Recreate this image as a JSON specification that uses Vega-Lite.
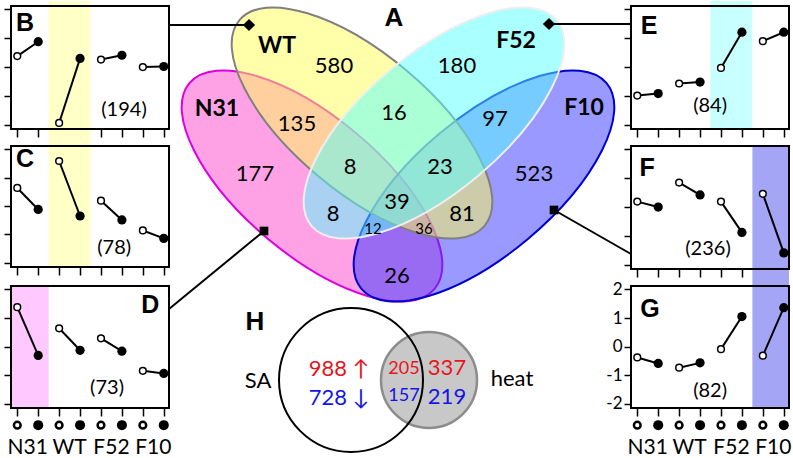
{
"$schema":"https://vega.github.io/schema/vega-lite/v6.json",
"background":"white",
"padding":{"left":2,"top":0,"right":0,"bottom":0},
"config":{"view":{"stroke":"black","strokeWidth":2},"axis":{"domain":false,"grid":false,"tickColor":"black","tickWidth":1.5,"zindex":1},"text":{"font":"Lato","color":"black"}},
"datasets":{
"pB":[{"g":"N31","t":"o","pos":1,"v":0.38},{"g":"N31","t":"f","pos":2,"v":0.88},{"g":"WT","t":"o","pos":3,"v":-1.94},{"g":"WT","t":"f","pos":4,"v":0.30},{"g":"F52","t":"o","pos":5,"v":0.26},{"g":"F52","t":"f","pos":6,"v":0.41},{"g":"F10","t":"o","pos":7,"v":0.0},{"g":"F10","t":"f","pos":8,"v":0.02}],
"pC":[{"g":"N31","t":"o","pos":1,"v":0.64},{"g":"N31","t":"f","pos":2,"v":-0.12},{"g":"WT","t":"o","pos":3,"v":1.59},{"g":"WT","t":"f","pos":4,"v":-0.35},{"g":"F52","t":"o","pos":5,"v":0.19},{"g":"F52","t":"f","pos":6,"v":-0.49},{"g":"F10","t":"o","pos":7,"v":-0.86},{"g":"F10","t":"f","pos":8,"v":-1.14}],
"pD":[{"g":"N31","t":"o","pos":1,"v":1.38},{"g":"N31","t":"f","pos":2,"v":-0.31},{"g":"WT","t":"o","pos":3,"v":0.64},{"g":"WT","t":"f","pos":4,"v":-0.13},{"g":"F52","t":"o","pos":5,"v":0.29},{"g":"F52","t":"f","pos":6,"v":-0.16},{"g":"F10","t":"o","pos":7,"v":-0.85},{"g":"F10","t":"f","pos":8,"v":-0.94}],
"pE":[{"g":"N31","t":"o","pos":1,"v":-0.99},{"g":"N31","t":"f","pos":2,"v":-0.92},{"g":"WT","t":"o","pos":3,"v":-0.57},{"g":"WT","t":"f","pos":4,"v":-0.52},{"g":"F52","t":"o","pos":5,"v":-0.03},{"g":"F52","t":"f","pos":6,"v":1.21},{"g":"F10","t":"o","pos":7,"v":0.90},{"g":"F10","t":"f","pos":8,"v":1.21}],
"pF":[{"g":"N31","t":"o","pos":1,"v":0.19},{"g":"N31","t":"f","pos":2,"v":0.0},{"g":"WT","t":"o","pos":3,"v":0.85},{"g":"WT","t":"f","pos":4,"v":0.42},{"g":"F52","t":"o","pos":5,"v":0.19},{"g":"F52","t":"f","pos":6,"v":-0.88},{"g":"F10","t":"o","pos":7,"v":0.46},{"g":"F10","t":"f","pos":8,"v":-1.59}],
"pG":[{"g":"N31","t":"o","pos":1,"v":-0.38},{"g":"N31","t":"f","pos":2,"v":-0.59},{"g":"WT","t":"o","pos":3,"v":-0.74},{"g":"WT","t":"f","pos":4,"v":-0.57},{"g":"F52","t":"o","pos":5,"v":-0.09},{"g":"F52","t":"f","pos":6,"v":1.05},{"g":"F10","t":"o","pos":7,"v":-0.32},{"g":"F10","t":"f","pos":8,"v":1.36}],
"axpts":[{"pos":1,"t":"o"},{"pos":2,"t":"f"},{"pos":3,"t":"o"},{"pos":4,"t":"f"},{"pos":5,"t":"o"},{"pos":6,"t":"f"},{"pos":7,"t":"o"},{"pos":8,"t":"f"}],
"axlab":[{"g":"N31","pos":1.5},{"g":"WT","pos":3.5},{"g":"F52","pos":5.5},{"g":"F10","pos":7.5}],
"venn":[{"set":"N31","x":-8.6,"y":0.5},{"set":"F10","x":8.6,"y":0.5},{"set":"WT","x":-3.6,"y":6.8},{"set":"F52","x":3.6,"y":6.8}],
"links":[{"x":-22.9,"y":16.6,"x2":-14.9,"y2":16.6},{"x":15.1,"y":16.7,"x2":23.3,"y2":16.7},{"x":-22.9,"y":-11.8,"x2":-13.4,"y2":-4.0},{"x":15.6,"y":-1.9,"x2":23.3,"y2":-6.3}],
"markers":[{"m":"d","x":-14.9,"y":16.6},{"m":"d","x":15.1,"y":16.7},{"m":"s","x":-13.4,"y":-4.0},{"m":"s","x":15.6,"y":-1.9}],
"vlab":[{"t":"580","x":-6.4,"y":12.5,"k":"num"},{"t":"180","x":5.9,"y":12.5,"k":"num"},{"t":"135","x":-10.1,"y":6.7,"k":"num"},{"t":"16","x":-0.4,"y":7.8,"k":"num"},{"t":"97","x":9.7,"y":7.2,"k":"num"},{"t":"177","x":-14.3,"y":1.7,"k":"num"},{"t":"8","x":-4.8,"y":2.4,"k":"num"},{"t":"23","x":4.2,"y":2.4,"k":"num"},{"t":"523","x":13.6,"y":1.7,"k":"num"},{"t":"39","x":-0.1,"y":-1.1,"k":"num"},{"t":"8","x":-6.5,"y":-2.3,"k":"num"},{"t":"81","x":6.4,"y":-2.3,"k":"num"},{"t":"26","x":-0.1,"y":-8.5,"k":"num"},{"t":"12","x":-2.5,"y":-3.8,"k":"small"},{"t":"36","x":2.6,"y":-3.8,"k":"small"},{"t":"WT","x":-12.1,"y":14.5,"k":"set"},{"t":"F52","x":11.8,"y":15.0,"k":"set"},{"t":"N31","x":-18.1,"y":8.2,"k":"set"},{"t":"F10","x":18.6,"y":8.3,"k":"set"},{"t":"A","x":-0.4,"y":17.3,"k":"letter"},{"t":"H","x":-14.3,"y":-13.1,"k":"letter"},{"t":"SA","x":-14.0,"y":-19.0,"k":"num"},{"t":"heat","x":11.4,"y":-18.8,"k":"num"},{"t":"988 ↑","x":-5.9,"y":-17.8,"k":"up"},{"t":"337","x":4.9,"y":-17.7,"k":"up"},{"t":"205","x":0.6,"y":-17.8,"k":"upS"},{"t":"728 ↓","x":-5.9,"y":-20.7,"k":"down"},{"t":"219","x":4.9,"y":-20.6,"k":"down"},{"t":"157","x":0.6,"y":-20.5,"k":"downS"}],
"hv":[{"c":"SA","x":-4.7,"y":-18.9},{"c":"heat","x":3.1,"y":-18.9}]
},
"columns":3,
"spacing":{"row":17,"column":0},
"bounds":"flush",
"concat":[
{"width":158,"height":123,"data":{"name":"pB"},"layer":[
 {"data":{"values":[{}]},"mark":{"type":"rect","color":"#ffffc8"},"encoding":{"x":{"datum":2.5,"type":"quantitative","scale":{"domain":[0.7,8.25],"nice":false,"zero":false},"axis":{"values":[1,2,3,4,5,6,7,8],"labels":false,"tickSize":8,"title":null}},"x2":{"datum":4.5},"y":{"datum":-2.45,"type":"quantitative","scale":{"domain":[-2.15,2.12],"nice":false,"zero":false},"axis":{"values":[-2,-1,0,1,2],"labels":false,"tickSize":7,"title":null}},"y2":{"datum":2.29}}},
 {"mark":{"type":"line","color":"black","strokeWidth":2},"encoding":{"x":{"field":"pos","type":"quantitative","scale":{"domain":[0.7,8.25],"nice":false,"zero":false},"axis":{"values":[1,2,3,4,5,6,7,8],"labels":false,"tickSize":8,"title":null}},"y":{"field":"v","type":"quantitative","scale":{"domain":[-2.15,2.12],"nice":false,"zero":false},"axis":{"values":[-2,-1,0,1,2],"labels":false,"tickSize":7,"title":null}},"detail":{"field":"g"}}},
 {"transform":[{"filter":"datum.t=='o'"}],"mark":{"type":"point","filled":true,"fill":"white","stroke":"black","strokeWidth":1.5,"size":45,"opacity":1},"encoding":{"x":{"field":"pos","type":"quantitative","scale":{"domain":[0.7,8.25],"nice":false,"zero":false},"axis":{"values":[1,2,3,4,5,6,7,8],"labels":false,"tickSize":8,"title":null}},"y":{"field":"v","type":"quantitative","scale":{"domain":[-2.15,2.12],"nice":false,"zero":false},"axis":{"values":[-2,-1,0,1,2],"labels":false,"tickSize":7,"title":null}}}},
 {"transform":[{"filter":"datum.t=='f'"}],"mark":{"type":"point","filled":true,"fill":"black","size":85,"opacity":1},"encoding":{"x":{"field":"pos","type":"quantitative","scale":{"domain":[0.7,8.25],"nice":false,"zero":false},"axis":{"values":[1,2,3,4,5,6,7,8],"labels":false,"tickSize":8,"title":null}},"y":{"field":"v","type":"quantitative","scale":{"domain":[-2.15,2.12],"nice":false,"zero":false},"axis":{"values":[-2,-1,0,1,2],"labels":false,"tickSize":7,"title":null}}}},
 {"data":{"values":[{"s":"B"}]},"mark":{"type":"text","font":"Liberation Sans","fontWeight":"bold","fontSize":25,"align":"center","baseline":"middle"},"encoding":{"x":{"datum":1.37,"type":"quantitative","scale":{"domain":[0.7,8.25],"nice":false,"zero":false},"axis":{"values":[1,2,3,4,5,6,7,8],"labels":false,"tickSize":8,"title":null}},"y":{"datum":1.53,"type":"quantitative","scale":{"domain":[-2.15,2.12],"nice":false,"zero":false},"axis":{"values":[-2,-1,0,1,2],"labels":false,"tickSize":7,"title":null}},"text":{"field":"s"}}},
 {"data":{"values":[{"s":"(194)"}]},"mark":{"type":"text","fontSize":20,"align":"center","baseline":"middle"},"encoding":{"x":{"datum":6.1,"type":"quantitative","scale":{"domain":[0.7,8.25],"nice":false,"zero":false},"axis":{"values":[1,2,3,4,5,6,7,8],"labels":false,"tickSize":8,"title":null}},"y":{"datum":-1.49,"type":"quantitative","scale":{"domain":[-2.15,2.12],"nice":false,"zero":false},"axis":{"values":[-2,-1,0,1,2],"labels":false,"tickSize":7,"title":null}},"text":{"field":"s"}}},
 {"data":{"values":[{}]},"mark":{"type":"rect","fillOpacity":0,"stroke":"black","strokeWidth":2},"encoding":{"x":{"datum":0.7,"type":"quantitative","scale":{"domain":[0.7,8.25],"nice":false,"zero":false},"axis":{"values":[1,2,3,4,5,6,7,8],"labels":false,"tickSize":8,"title":null}},"x2":{"datum":8.25},"y":{"datum":-2.15,"type":"quantitative","scale":{"domain":[-2.15,2.12],"nice":false,"zero":false},"axis":{"values":[-2,-1,0,1,2],"labels":false,"tickSize":7,"title":null}},"y2":{"datum":2.12}}}
]},
{"width":462,"height":123,"view":{"stroke":null},
 "encoding":{"x":{"field":"x","type":"quantitative","scale":{"domain":[-22.9,23.3],"nice":false,"zero":false},"axis":null},
             "y":{"field":"y","type":"quantitative","scale":{"domain":[6.2,18.5],"nice":false,"zero":false},"axis":null}},
 "layer":[
  {"data":{"name":"venn"},"transform":[{"filter":"datum.set=='N31'"}],"mark":{"type":"point","shape":"M-1,0A1,0.43,0,1,1,1,0A1,0.43,0,1,1,-1,0Z","size":102400,"angle":40,"filled":true,"fill":"#ff44cc","fillOpacity":0.5,"stroke":"#dd00dd","strokeWidth":2,"opacity":1}},
  {"data":{"name":"venn"},"transform":[{"filter":"datum.set=='F10'"}],"mark":{"type":"point","shape":"M-1,0A1,0.43,0,1,1,1,0A1,0.43,0,1,1,-1,0Z","size":102400,"angle":-40,"filled":true,"fill":"#3333ff","fillOpacity":0.5,"stroke":"#0000cc","strokeWidth":2,"opacity":1}},
  {"data":{"name":"venn"},"transform":[{"filter":"datum.set=='WT'"}],"mark":{"type":"point","shape":"M-1,0A1,0.43,0,1,1,1,0A1,0.43,0,1,1,-1,0Z","size":102400,"angle":40,"filled":true,"fill":"#ffff55","fillOpacity":0.5,"stroke":"#808080","strokeWidth":2,"opacity":1}},
  {"data":{"name":"venn"},"transform":[{"filter":"datum.set=='F52'"}],"mark":{"type":"point","shape":"M-1,0A1,0.43,0,1,1,1,0A1,0.43,0,1,1,-1,0Z","size":102400,"angle":-40,"filled":true,"fill":"#55ffff","fillOpacity":0.5,"stroke":"#eeeeee","strokeWidth":2,"opacity":1}},
  {"data":{"name":"links"},"mark":{"type":"rule","color":"black","strokeWidth":2},"encoding":{"x2":{"field":"x2"},"y2":{"field":"y2"}}},
  {"data":{"name":"markers"},"transform":[{"filter":"datum.m=='d'"}],"mark":{"type":"point","shape":"diamond","filled":true,"color":"black","size":150,"opacity":1}},
  {"data":{"name":"markers"},"transform":[{"filter":"datum.m=='s'"}],"mark":{"type":"point","shape":"square","filled":true,"color":"black","size":75,"opacity":1}},
  {"data":{"name":"hv"},"transform":[{"filter":"datum.c=='heat'"}],"mark":{"type":"point","shape":"circle","filled":true,"fill":"#c8c8c8","stroke":"#8c8c8c","strokeWidth":2.5,"size":9216,"opacity":1}},
  {"data":{"name":"hv"},"transform":[{"filter":"datum.c=='SA'"}],"mark":{"type":"point","shape":"circle","filled":false,"stroke":"black","strokeWidth":2,"size":20736,"opacity":1}},
  {"data":{"name":"vlab"},"transform":[{"filter":"datum.k=='num'"}],"mark":{"type":"text","fontSize":22,"align":"center","baseline":"middle"},"encoding":{"text":{"field":"t"}}},
  {"data":{"name":"vlab"},"transform":[{"filter":"datum.k=='small'"}],"mark":{"type":"text","fontSize":15,"align":"center","baseline":"middle"},"encoding":{"text":{"field":"t"}}},
  {"data":{"name":"vlab"},"transform":[{"filter":"datum.k=='set'"}],"mark":{"type":"text","fontSize":23,"fontWeight":"bold","align":"center","baseline":"middle"},"encoding":{"text":{"field":"t"}}},
  {"data":{"name":"vlab"},"transform":[{"filter":"datum.k=='letter'"}],"mark":{"type":"text","font":"Liberation Sans","fontSize":26,"fontWeight":"bold","align":"center","baseline":"middle"},"encoding":{"text":{"field":"t"}}},
  {"data":{"name":"vlab"},"transform":[{"filter":"datum.k=='up'"}],"mark":{"type":"text","font":"Lato, DejaVu Sans","fontSize":22,"color":"#e8141c","align":"center","baseline":"middle"},"encoding":{"text":{"field":"t"}}},
  {"data":{"name":"vlab"},"transform":[{"filter":"datum.k=='upS'"}],"mark":{"type":"text","fontSize":18,"color":"#e8141c","align":"center","baseline":"middle"},"encoding":{"text":{"field":"t"}}},
  {"data":{"name":"vlab"},"transform":[{"filter":"datum.k=='down'"}],"mark":{"type":"text","font":"Lato, DejaVu Sans","fontSize":22,"color":"#1414e6","align":"center","baseline":"middle"},"encoding":{"text":{"field":"t"}}},
  {"data":{"name":"vlab"},"transform":[{"filter":"datum.k=='downS'"}],"mark":{"type":"text","fontSize":18,"color":"#1414e6","align":"center","baseline":"middle"},"encoding":{"text":{"field":"t"}}}
 ]},
{"width":158,"height":123,"data":{"name":"pE"},"layer":[
 {"data":{"values":[{}]},"mark":{"type":"rect","color":"#c8ffff"},"encoding":{"x":{"datum":4.5,"type":"quantitative","scale":{"domain":[0.7,8.25],"nice":false,"zero":false},"axis":{"values":[1,2,3,4,5,6,7,8],"labels":false,"tickSize":8,"title":null}},"x2":{"datum":6.5},"y":{"datum":-2.15,"type":"quantitative","scale":{"domain":[-2.15,2.12],"nice":false,"zero":false},"axis":{"values":[-2,-1,0,1,2],"labels":false,"tickSize":7,"title":null}},"y2":{"datum":2.29}}},
 {"mark":{"type":"line","color":"black","strokeWidth":2},"encoding":{"x":{"field":"pos","type":"quantitative","scale":{"domain":[0.7,8.25],"nice":false,"zero":false},"axis":{"values":[1,2,3,4,5,6,7,8],"labels":false,"tickSize":8,"title":null}},"y":{"field":"v","type":"quantitative","scale":{"domain":[-2.15,2.12],"nice":false,"zero":false},"axis":{"values":[-2,-1,0,1,2],"labels":false,"tickSize":7,"title":null}},"detail":{"field":"g"}}},
 {"transform":[{"filter":"datum.t=='o'"}],"mark":{"type":"point","filled":true,"fill":"white","stroke":"black","strokeWidth":1.5,"size":45,"opacity":1},"encoding":{"x":{"field":"pos","type":"quantitative","scale":{"domain":[0.7,8.25],"nice":false,"zero":false},"axis":{"values":[1,2,3,4,5,6,7,8],"labels":false,"tickSize":8,"title":null}},"y":{"field":"v","type":"quantitative","scale":{"domain":[-2.15,2.12],"nice":false,"zero":false},"axis":{"values":[-2,-1,0,1,2],"labels":false,"tickSize":7,"title":null}}}},
 {"transform":[{"filter":"datum.t=='f'"}],"mark":{"type":"point","filled":true,"fill":"black","size":85,"opacity":1},"encoding":{"x":{"field":"pos","type":"quantitative","scale":{"domain":[0.7,8.25],"nice":false,"zero":false},"axis":{"values":[1,2,3,4,5,6,7,8],"labels":false,"tickSize":8,"title":null}},"y":{"field":"v","type":"quantitative","scale":{"domain":[-2.15,2.12],"nice":false,"zero":false},"axis":{"values":[-2,-1,0,1,2],"labels":false,"tickSize":7,"title":null}}}},
 {"data":{"values":[{"s":"E"}]},"mark":{"type":"text","font":"Liberation Sans","fontWeight":"bold","fontSize":25,"align":"center","baseline":"middle"},"encoding":{"x":{"datum":1.56,"type":"quantitative","scale":{"domain":[0.7,8.25],"nice":false,"zero":false},"axis":{"values":[1,2,3,4,5,6,7,8],"labels":false,"tickSize":8,"title":null}},"y":{"datum":1.43,"type":"quantitative","scale":{"domain":[-2.15,2.12],"nice":false,"zero":false},"axis":{"values":[-2,-1,0,1,2],"labels":false,"tickSize":7,"title":null}},"text":{"field":"s"}}},
 {"data":{"values":[{"s":"(84)"}]},"mark":{"type":"text","fontSize":20,"align":"center","baseline":"middle"},"encoding":{"x":{"datum":4.48,"type":"quantitative","scale":{"domain":[0.7,8.25],"nice":false,"zero":false},"axis":{"values":[1,2,3,4,5,6,7,8],"labels":false,"tickSize":8,"title":null}},"y":{"datum":-1.35,"type":"quantitative","scale":{"domain":[-2.15,2.12],"nice":false,"zero":false},"axis":{"values":[-2,-1,0,1,2],"labels":false,"tickSize":7,"title":null}},"text":{"field":"s"}}},
 {"data":{"values":[{}]},"mark":{"type":"rect","fillOpacity":0,"stroke":"black","strokeWidth":2},"encoding":{"x":{"datum":0.7,"type":"quantitative","scale":{"domain":[0.7,8.25],"nice":false,"zero":false},"axis":{"values":[1,2,3,4,5,6,7,8],"labels":false,"tickSize":8,"title":null}},"x2":{"datum":8.25},"y":{"datum":-2.15,"type":"quantitative","scale":{"domain":[-2.15,2.12],"nice":false,"zero":false},"axis":{"values":[-2,-1,0,1,2],"labels":false,"tickSize":7,"title":null}},"y2":{"datum":2.12}}}
]},
{"width":158,"height":121,"data":{"name":"pC"},"layer":[
 {"data":{"values":[{}]},"mark":{"type":"rect","color":"#ffffc8"},"encoding":{"x":{"datum":2.5,"type":"quantitative","scale":{"domain":[0.7,8.25],"nice":false,"zero":false},"axis":{"values":[1,2,3,4,5,6,7,8],"labels":false,"tickSize":8,"title":null}},"x2":{"datum":4.5},"y":{"datum":-2.15,"type":"quantitative","scale":{"domain":[-2.15,2.12],"nice":false,"zero":false},"axis":{"values":[-2,-1,0,1,2],"labels":false,"tickSize":7,"title":null}},"y2":{"datum":2.42}}},
 {"mark":{"type":"line","color":"black","strokeWidth":2},"encoding":{"x":{"field":"pos","type":"quantitative","scale":{"domain":[0.7,8.25],"nice":false,"zero":false},"axis":{"values":[1,2,3,4,5,6,7,8],"labels":false,"tickSize":8,"title":null}},"y":{"field":"v","type":"quantitative","scale":{"domain":[-2.15,2.12],"nice":false,"zero":false},"axis":{"values":[-2,-1,0,1,2],"labels":false,"tickSize":7,"title":null}},"detail":{"field":"g"}}},
 {"transform":[{"filter":"datum.t=='o'"}],"mark":{"type":"point","filled":true,"fill":"white","stroke":"black","strokeWidth":1.5,"size":45,"opacity":1},"encoding":{"x":{"field":"pos","type":"quantitative","scale":{"domain":[0.7,8.25],"nice":false,"zero":false},"axis":{"values":[1,2,3,4,5,6,7,8],"labels":false,"tickSize":8,"title":null}},"y":{"field":"v","type":"quantitative","scale":{"domain":[-2.15,2.12],"nice":false,"zero":false},"axis":{"values":[-2,-1,0,1,2],"labels":false,"tickSize":7,"title":null}}}},
 {"transform":[{"filter":"datum.t=='f'"}],"mark":{"type":"point","filled":true,"fill":"black","size":85,"opacity":1},"encoding":{"x":{"field":"pos","type":"quantitative","scale":{"domain":[0.7,8.25],"nice":false,"zero":false},"axis":{"values":[1,2,3,4,5,6,7,8],"labels":false,"tickSize":8,"title":null}},"y":{"field":"v","type":"quantitative","scale":{"domain":[-2.15,2.12],"nice":false,"zero":false},"axis":{"values":[-2,-1,0,1,2],"labels":false,"tickSize":7,"title":null}}}},
 {"data":{"values":[{"s":"C"}]},"mark":{"type":"text","font":"Liberation Sans","fontWeight":"bold","fontSize":25,"align":"center","baseline":"middle"},"encoding":{"x":{"datum":1.37,"type":"quantitative","scale":{"domain":[0.7,8.25],"nice":false,"zero":false},"axis":{"values":[1,2,3,4,5,6,7,8],"labels":false,"tickSize":8,"title":null}},"y":{"datum":1.66,"type":"quantitative","scale":{"domain":[-2.15,2.12],"nice":false,"zero":false},"axis":{"values":[-2,-1,0,1,2],"labels":false,"tickSize":7,"title":null}},"text":{"field":"s"}}},
 {"data":{"values":[{"s":"(78)"}]},"mark":{"type":"text","fontSize":20,"align":"center","baseline":"middle"},"encoding":{"x":{"datum":5.63,"type":"quantitative","scale":{"domain":[0.7,8.25],"nice":false,"zero":false},"axis":{"values":[1,2,3,4,5,6,7,8],"labels":false,"tickSize":8,"title":null}},"y":{"datum":-1.47,"type":"quantitative","scale":{"domain":[-2.15,2.12],"nice":false,"zero":false},"axis":{"values":[-2,-1,0,1,2],"labels":false,"tickSize":7,"title":null}},"text":{"field":"s"}}},
 {"data":{"values":[{}]},"mark":{"type":"rect","fillOpacity":0,"stroke":"black","strokeWidth":2},"encoding":{"x":{"datum":0.7,"type":"quantitative","scale":{"domain":[0.7,8.25],"nice":false,"zero":false},"axis":{"values":[1,2,3,4,5,6,7,8],"labels":false,"tickSize":8,"title":null}},"x2":{"datum":8.25},"y":{"datum":-2.15,"type":"quantitative","scale":{"domain":[-2.15,2.12],"nice":false,"zero":false},"axis":{"values":[-2,-1,0,1,2],"labels":false,"tickSize":7,"title":null}},"y2":{"datum":2.12}}}
]},
{"width":462,"height":123,"view":{"stroke":null},"data":{"values":[{}]},"mark":{"type":"text","text":""}},
{"width":158,"height":123,"data":{"name":"pF"},"layer":[
 {"data":{"values":[{}]},"mark":{"type":"rect","color":"#a5a5f5"},"encoding":{"x":{"datum":6.5,"type":"quantitative","scale":{"domain":[0.7,8.25],"nice":false,"zero":false},"axis":{"values":[1,2,3,4,5,6,7,8],"labels":false,"tickSize":8,"title":null}},"x2":{"datum":8.25},"y":{"datum":-2.74,"type":"quantitative","scale":{"domain":[-2.15,2.12],"nice":false,"zero":false},"axis":{"values":[-2,-1,0,1,2],"labels":false,"tickSize":7,"title":null}},"y2":{"datum":2.12}}},
 {"mark":{"type":"line","color":"black","strokeWidth":2},"encoding":{"x":{"field":"pos","type":"quantitative","scale":{"domain":[0.7,8.25],"nice":false,"zero":false},"axis":{"values":[1,2,3,4,5,6,7,8],"labels":false,"tickSize":8,"title":null}},"y":{"field":"v","type":"quantitative","scale":{"domain":[-2.15,2.12],"nice":false,"zero":false},"axis":{"values":[-2,-1,0,1,2],"labels":false,"tickSize":7,"title":null}},"detail":{"field":"g"}}},
 {"transform":[{"filter":"datum.t=='o'"}],"mark":{"type":"point","filled":true,"fill":"white","stroke":"black","strokeWidth":1.5,"size":45,"opacity":1},"encoding":{"x":{"field":"pos","type":"quantitative","scale":{"domain":[0.7,8.25],"nice":false,"zero":false},"axis":{"values":[1,2,3,4,5,6,7,8],"labels":false,"tickSize":8,"title":null}},"y":{"field":"v","type":"quantitative","scale":{"domain":[-2.15,2.12],"nice":false,"zero":false},"axis":{"values":[-2,-1,0,1,2],"labels":false,"tickSize":7,"title":null}}}},
 {"transform":[{"filter":"datum.t=='f'"}],"mark":{"type":"point","filled":true,"fill":"black","size":85,"opacity":1},"encoding":{"x":{"field":"pos","type":"quantitative","scale":{"domain":[0.7,8.25],"nice":false,"zero":false},"axis":{"values":[1,2,3,4,5,6,7,8],"labels":false,"tickSize":8,"title":null}},"y":{"field":"v","type":"quantitative","scale":{"domain":[-2.15,2.12],"nice":false,"zero":false},"axis":{"values":[-2,-1,0,1,2],"labels":false,"tickSize":7,"title":null}}}},
 {"data":{"values":[{"s":"F"}]},"mark":{"type":"text","font":"Liberation Sans","fontWeight":"bold","fontSize":25,"align":"center","baseline":"middle"},"encoding":{"x":{"datum":1.47,"type":"quantitative","scale":{"domain":[0.7,8.25],"nice":false,"zero":false},"axis":{"values":[1,2,3,4,5,6,7,8],"labels":false,"tickSize":8,"title":null}},"y":{"datum":1.36,"type":"quantitative","scale":{"domain":[-2.15,2.12],"nice":false,"zero":false},"axis":{"values":[-2,-1,0,1,2],"labels":false,"tickSize":7,"title":null}},"text":{"field":"s"}}},
 {"data":{"values":[{"s":"(236)"}]},"mark":{"type":"text","fontSize":20,"align":"center","baseline":"middle"},"encoding":{"x":{"datum":4.38,"type":"quantitative","scale":{"domain":[0.7,8.25],"nice":false,"zero":false},"axis":{"values":[1,2,3,4,5,6,7,8],"labels":false,"tickSize":8,"title":null}},"y":{"datum":-1.46,"type":"quantitative","scale":{"domain":[-2.15,2.12],"nice":false,"zero":false},"axis":{"values":[-2,-1,0,1,2],"labels":false,"tickSize":7,"title":null}},"text":{"field":"s"}}},
 {"data":{"values":[{}]},"mark":{"type":"rect","fillOpacity":0,"stroke":"black","strokeWidth":2},"encoding":{"x":{"datum":0.7,"type":"quantitative","scale":{"domain":[0.7,8.25],"nice":false,"zero":false},"axis":{"values":[1,2,3,4,5,6,7,8],"labels":false,"tickSize":8,"title":null}},"x2":{"datum":8.25},"y":{"datum":-2.15,"type":"quantitative","scale":{"domain":[-2.15,2.12],"nice":false,"zero":false},"axis":{"values":[-2,-1,0,1,2],"labels":false,"tickSize":7,"title":null}},"y2":{"datum":2.12}}}
]},
{"width":158,"height":122,"data":{"name":"pD"},"layer":[
 {"data":{"values":[{}]},"mark":{"type":"rect","color":"#ffc8ff"},"encoding":{"x":{"datum":0.7,"type":"quantitative","scale":{"domain":[0.7,8.25],"nice":false,"zero":false},"axis":{"values":[1,2,3,4,5,6,7,8],"labels":false,"tickSize":8,"title":null}},"x2":{"datum":2.5},"y":{"datum":-2.15,"type":"quantitative","scale":{"domain":[-2.15,2.12],"nice":false,"zero":false},"axis":{"values":[-2,-1,0,1,2],"labels":false,"tickSize":7,"title":null}},"y2":{"datum":2.12}}},
 {"mark":{"type":"line","color":"black","strokeWidth":2},"encoding":{"x":{"field":"pos","type":"quantitative","scale":{"domain":[0.7,8.25],"nice":false,"zero":false},"axis":{"values":[1,2,3,4,5,6,7,8],"labels":false,"tickSize":8,"title":null}},"y":{"field":"v","type":"quantitative","scale":{"domain":[-2.15,2.12],"nice":false,"zero":false},"axis":{"values":[-2,-1,0,1,2],"labels":false,"tickSize":7,"title":null}},"detail":{"field":"g"}}},
 {"transform":[{"filter":"datum.t=='o'"}],"mark":{"type":"point","filled":true,"fill":"white","stroke":"black","strokeWidth":1.5,"size":45,"opacity":1},"encoding":{"x":{"field":"pos","type":"quantitative","scale":{"domain":[0.7,8.25],"nice":false,"zero":false},"axis":{"values":[1,2,3,4,5,6,7,8],"labels":false,"tickSize":8,"title":null}},"y":{"field":"v","type":"quantitative","scale":{"domain":[-2.15,2.12],"nice":false,"zero":false},"axis":{"values":[-2,-1,0,1,2],"labels":false,"tickSize":7,"title":null}}}},
 {"transform":[{"filter":"datum.t=='f'"}],"mark":{"type":"point","filled":true,"fill":"black","size":85,"opacity":1},"encoding":{"x":{"field":"pos","type":"quantitative","scale":{"domain":[0.7,8.25],"nice":false,"zero":false},"axis":{"values":[1,2,3,4,5,6,7,8],"labels":false,"tickSize":8,"title":null}},"y":{"field":"v","type":"quantitative","scale":{"domain":[-2.15,2.12],"nice":false,"zero":false},"axis":{"values":[-2,-1,0,1,2],"labels":false,"tickSize":7,"title":null}}}},
 {"data":{"values":[{"s":"D"}]},"mark":{"type":"text","font":"Liberation Sans","fontWeight":"bold","fontSize":25,"align":"center","baseline":"middle"},"encoding":{"x":{"datum":7.35,"type":"quantitative","scale":{"domain":[0.7,8.25],"nice":false,"zero":false},"axis":{"values":[1,2,3,4,5,6,7,8],"labels":false,"tickSize":8,"title":null}},"y":{"datum":1.46,"type":"quantitative","scale":{"domain":[-2.15,2.12],"nice":false,"zero":false},"axis":{"values":[-2,-1,0,1,2],"labels":false,"tickSize":7,"title":null}},"text":{"field":"s"}}},
 {"data":{"values":[{"s":"(73)"}]},"mark":{"type":"text","fontSize":20,"align":"center","baseline":"middle"},"encoding":{"x":{"datum":5.29,"type":"quantitative","scale":{"domain":[0.7,8.25],"nice":false,"zero":false},"axis":{"values":[1,2,3,4,5,6,7,8],"labels":false,"tickSize":8,"title":null}},"y":{"datum":-1.45,"type":"quantitative","scale":{"domain":[-2.15,2.12],"nice":false,"zero":false},"axis":{"values":[-2,-1,0,1,2],"labels":false,"tickSize":7,"title":null}},"text":{"field":"s"}}},
 {"data":{"values":[{}]},"mark":{"type":"rect","fillOpacity":0,"stroke":"black","strokeWidth":2},"encoding":{"x":{"datum":0.7,"type":"quantitative","scale":{"domain":[0.7,8.25],"nice":false,"zero":false},"axis":{"values":[1,2,3,4,5,6,7,8],"labels":false,"tickSize":8,"title":null}},"x2":{"datum":8.25},"y":{"datum":-2.15,"type":"quantitative","scale":{"domain":[-2.15,2.12],"nice":false,"zero":false},"axis":{"values":[-2,-1,0,1,2],"labels":false,"tickSize":7,"title":null}},"y2":{"datum":2.12}}},
 {"data":{"name":"axpts"},"transform":[{"filter":"datum.t=='o'"}],"mark":{"type":"point","filled":true,"fill":"white","stroke":"black","strokeWidth":2.5,"size":45,"opacity":1},"encoding":{"x":{"field":"pos","type":"quantitative","scale":{"domain":[0.7,8.25],"nice":false,"zero":false},"axis":{"values":[1,2,3,4,5,6,7,8],"labels":false,"tickSize":8,"title":null}},"y":{"datum":-2.75,"type":"quantitative","scale":{"domain":[-2.15,2.12],"nice":false,"zero":false},"axis":{"values":[-2,-1,0,1,2],"labels":false,"tickSize":7,"title":null}}}},
 {"data":{"name":"axpts"},"transform":[{"filter":"datum.t=='f'"}],"mark":{"type":"point","filled":true,"fill":"black","size":100,"opacity":1},"encoding":{"x":{"field":"pos","type":"quantitative","scale":{"domain":[0.7,8.25],"nice":false,"zero":false},"axis":{"values":[1,2,3,4,5,6,7,8],"labels":false,"tickSize":8,"title":null}},"y":{"datum":-2.75,"type":"quantitative","scale":{"domain":[-2.15,2.12],"nice":false,"zero":false},"axis":{"values":[-2,-1,0,1,2],"labels":false,"tickSize":7,"title":null}}}},
 {"data":{"name":"axlab"},"mark":{"type":"text","fontSize":21,"align":"center","baseline":"middle"},"encoding":{"x":{"field":"pos","type":"quantitative","scale":{"domain":[0.7,8.25],"nice":false,"zero":false},"axis":{"values":[1,2,3,4,5,6,7,8],"labels":false,"tickSize":8,"title":null}},"y":{"datum":-3.56,"type":"quantitative","scale":{"domain":[-2.15,2.12],"nice":false,"zero":false},"axis":{"values":[-2,-1,0,1,2],"labels":false,"tickSize":7,"title":null}},"text":{"field":"g"}}}
]},
{"width":462,"height":122,"view":{"stroke":null},"data":{"values":[{}]},"mark":{"type":"text","text":""}},
{"width":158,"height":122,"data":{"name":"pG"},"layer":[
 {"data":{"values":[{}]},"mark":{"type":"rect","color":"#a5a5f5"},"encoding":{"x":{"datum":6.5,"type":"quantitative","scale":{"domain":[0.7,8.25],"nice":false,"zero":false},"axis":{"values":[1,2,3,4,5,6,7,8],"labels":false,"tickSize":8,"title":null}},"x2":{"datum":8.25},"y":{"datum":-2.15,"type":"quantitative","scale":{"domain":[-2.15,2.12],"nice":false,"zero":false},"axis":{"values":[-2,-1,0,1,2],"labels":true,"labelFont":"Lato","labelFontSize":17,"labelColor":"black","labelPadding":2,"labelExpr":"datum.value < 0 ? '-' + abs(datum.value) : '' + datum.value","tickSize":7,"title":null}},"y2":{"datum":2.12}}},
 {"mark":{"type":"line","color":"black","strokeWidth":2},"encoding":{"x":{"field":"pos","type":"quantitative","scale":{"domain":[0.7,8.25],"nice":false,"zero":false},"axis":{"values":[1,2,3,4,5,6,7,8],"labels":false,"tickSize":8,"title":null}},"y":{"field":"v","type":"quantitative","scale":{"domain":[-2.15,2.12],"nice":false,"zero":false},"axis":{"values":[-2,-1,0,1,2],"labels":true,"labelFont":"Lato","labelFontSize":17,"labelColor":"black","labelPadding":2,"labelExpr":"datum.value < 0 ? '-' + abs(datum.value) : '' + datum.value","tickSize":7,"title":null}},"detail":{"field":"g"}}},
 {"transform":[{"filter":"datum.t=='o'"}],"mark":{"type":"point","filled":true,"fill":"white","stroke":"black","strokeWidth":1.5,"size":45,"opacity":1},"encoding":{"x":{"field":"pos","type":"quantitative","scale":{"domain":[0.7,8.25],"nice":false,"zero":false},"axis":{"values":[1,2,3,4,5,6,7,8],"labels":false,"tickSize":8,"title":null}},"y":{"field":"v","type":"quantitative","scale":{"domain":[-2.15,2.12],"nice":false,"zero":false},"axis":{"values":[-2,-1,0,1,2],"labels":true,"labelFont":"Lato","labelFontSize":17,"labelColor":"black","labelPadding":2,"labelExpr":"datum.value < 0 ? '-' + abs(datum.value) : '' + datum.value","tickSize":7,"title":null}}}},
 {"transform":[{"filter":"datum.t=='f'"}],"mark":{"type":"point","filled":true,"fill":"black","size":85,"opacity":1},"encoding":{"x":{"field":"pos","type":"quantitative","scale":{"domain":[0.7,8.25],"nice":false,"zero":false},"axis":{"values":[1,2,3,4,5,6,7,8],"labels":false,"tickSize":8,"title":null}},"y":{"field":"v","type":"quantitative","scale":{"domain":[-2.15,2.12],"nice":false,"zero":false},"axis":{"values":[-2,-1,0,1,2],"labels":true,"labelFont":"Lato","labelFontSize":17,"labelColor":"black","labelPadding":2,"labelExpr":"datum.value < 0 ? '-' + abs(datum.value) : '' + datum.value","tickSize":7,"title":null}}}},
 {"data":{"values":[{"s":"G"}]},"mark":{"type":"text","font":"Liberation Sans","fontWeight":"bold","fontSize":25,"align":"center","baseline":"middle"},"encoding":{"x":{"datum":1.61,"type":"quantitative","scale":{"domain":[0.7,8.25],"nice":false,"zero":false},"axis":{"values":[1,2,3,4,5,6,7,8],"labels":false,"tickSize":8,"title":null}},"y":{"datum":1.31,"type":"quantitative","scale":{"domain":[-2.15,2.12],"nice":false,"zero":false},"axis":{"values":[-2,-1,0,1,2],"labels":true,"labelFont":"Lato","labelFontSize":17,"labelColor":"black","labelPadding":2,"labelExpr":"datum.value < 0 ? '-' + abs(datum.value) : '' + datum.value","tickSize":7,"title":null}},"text":{"field":"s"}}},
 {"data":{"values":[{"s":"(82)"}]},"mark":{"type":"text","fontSize":20,"align":"center","baseline":"middle"},"encoding":{"x":{"datum":4.48,"type":"quantitative","scale":{"domain":[0.7,8.25],"nice":false,"zero":false},"axis":{"values":[1,2,3,4,5,6,7,8],"labels":false,"tickSize":8,"title":null}},"y":{"datum":-1.56,"type":"quantitative","scale":{"domain":[-2.15,2.12],"nice":false,"zero":false},"axis":{"values":[-2,-1,0,1,2],"labels":true,"labelFont":"Lato","labelFontSize":17,"labelColor":"black","labelPadding":2,"labelExpr":"datum.value < 0 ? '-' + abs(datum.value) : '' + datum.value","tickSize":7,"title":null}},"text":{"field":"s"}}},
 {"data":{"values":[{}]},"mark":{"type":"rect","fillOpacity":0,"stroke":"black","strokeWidth":2},"encoding":{"x":{"datum":0.7,"type":"quantitative","scale":{"domain":[0.7,8.25],"nice":false,"zero":false},"axis":{"values":[1,2,3,4,5,6,7,8],"labels":false,"tickSize":8,"title":null}},"x2":{"datum":8.25},"y":{"datum":-2.15,"type":"quantitative","scale":{"domain":[-2.15,2.12],"nice":false,"zero":false},"axis":{"values":[-2,-1,0,1,2],"labels":true,"labelFont":"Lato","labelFontSize":17,"labelColor":"black","labelPadding":2,"labelExpr":"datum.value < 0 ? '-' + abs(datum.value) : '' + datum.value","tickSize":7,"title":null}},"y2":{"datum":2.12}}},
 {"data":{"name":"axpts"},"transform":[{"filter":"datum.t=='o'"}],"mark":{"type":"point","filled":true,"fill":"white","stroke":"black","strokeWidth":2.5,"size":45,"opacity":1},"encoding":{"x":{"field":"pos","type":"quantitative","scale":{"domain":[0.7,8.25],"nice":false,"zero":false},"axis":{"values":[1,2,3,4,5,6,7,8],"labels":false,"tickSize":8,"title":null}},"y":{"datum":-2.75,"type":"quantitative","scale":{"domain":[-2.15,2.12],"nice":false,"zero":false},"axis":{"values":[-2,-1,0,1,2],"labels":true,"labelFont":"Lato","labelFontSize":17,"labelColor":"black","labelPadding":2,"labelExpr":"datum.value < 0 ? '-' + abs(datum.value) : '' + datum.value","tickSize":7,"title":null}}}},
 {"data":{"name":"axpts"},"transform":[{"filter":"datum.t=='f'"}],"mark":{"type":"point","filled":true,"fill":"black","size":100,"opacity":1},"encoding":{"x":{"field":"pos","type":"quantitative","scale":{"domain":[0.7,8.25],"nice":false,"zero":false},"axis":{"values":[1,2,3,4,5,6,7,8],"labels":false,"tickSize":8,"title":null}},"y":{"datum":-2.75,"type":"quantitative","scale":{"domain":[-2.15,2.12],"nice":false,"zero":false},"axis":{"values":[-2,-1,0,1,2],"labels":true,"labelFont":"Lato","labelFontSize":17,"labelColor":"black","labelPadding":2,"labelExpr":"datum.value < 0 ? '-' + abs(datum.value) : '' + datum.value","tickSize":7,"title":null}}}},
 {"data":{"name":"axlab"},"mark":{"type":"text","fontSize":21,"align":"center","baseline":"middle"},"encoding":{"x":{"field":"pos","type":"quantitative","scale":{"domain":[0.7,8.25],"nice":false,"zero":false},"axis":{"values":[1,2,3,4,5,6,7,8],"labels":false,"tickSize":8,"title":null}},"y":{"datum":-3.56,"type":"quantitative","scale":{"domain":[-2.15,2.12],"nice":false,"zero":false},"axis":{"values":[-2,-1,0,1,2],"labels":true,"labelFont":"Lato","labelFontSize":17,"labelColor":"black","labelPadding":2,"labelExpr":"datum.value < 0 ? '-' + abs(datum.value) : '' + datum.value","tickSize":7,"title":null}},"text":{"field":"g"}}}
]}
]
}
